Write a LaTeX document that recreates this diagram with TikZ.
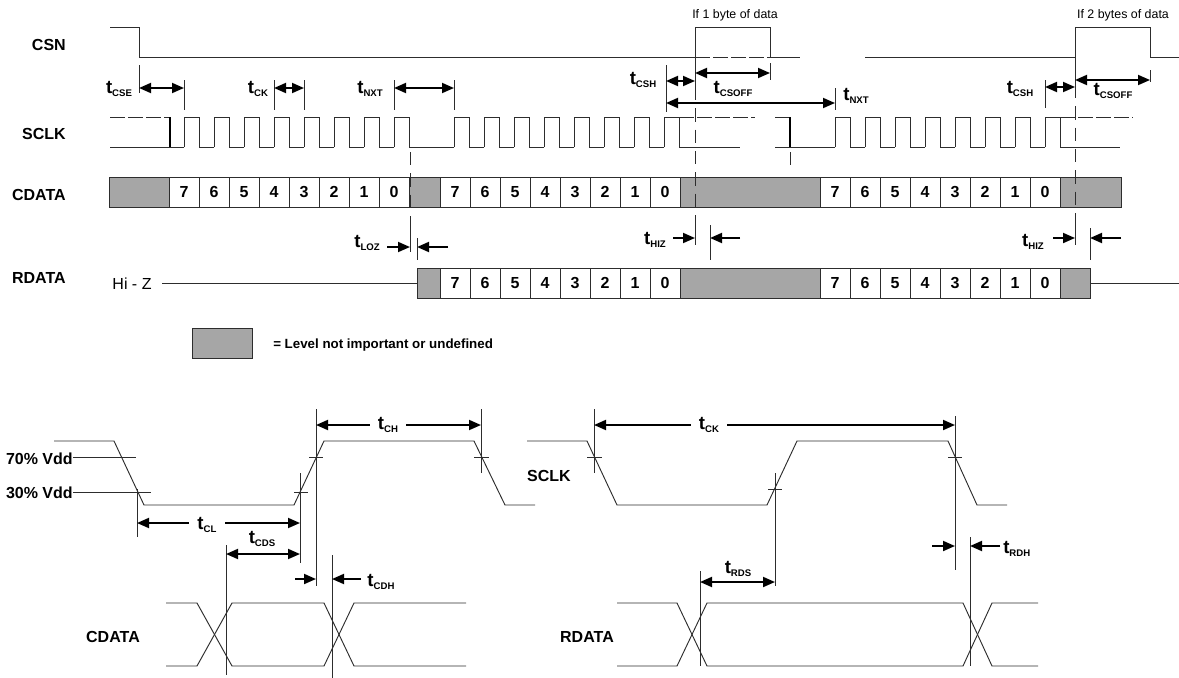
\documentclass[tikz,border=0pt]{standalone}
\usepackage{fontspec}
\setmainfont{Liberation Sans}
\usetikzlibrary{arrows.meta}
\definecolor{greyfill}{RGB}{166,166,166}
\definecolor{ink}{RGB}{45,45,45}
\newcommand\tsub[1]{{\bfseries\fontsize{14}{14}\selectfont t\raisebox{-2.4pt}{\fontsize{7.2}{7.2}\selectfont #1}}}
\begin{document}
\begin{tikzpicture}[x=0.75pt,y=-0.75pt,
  wave/.style={draw=ink,line width=0.7pt},
  dashw/.style={wave,dash pattern=on 11pt off 2.5pt},
  guide/.style={draw=ink,line width=0.6pt},
  dguide/.style={draw=ink,line width=0.6pt,dash pattern=on 10pt off 6pt},
  darr/.style={draw=black,line width=1.4pt,{Triangle[length=9pt,width=7.5pt]}-{Triangle[length=9pt,width=7.5pt]}},
  rarr/.style={draw=black,line width=1.4pt,-{Triangle[length=9pt,width=7.5pt]}},
  cellbox/.style={draw=ink,line width=0.7pt,fill=white},
  greybox/.style={draw=ink,line width=0.7pt,fill=greyfill},
  sig/.style={font=\bfseries\fontsize{12}{12}\selectfont,anchor=east,inner sep=0pt},
  sigc/.style={font=\bfseries\fontsize{12}{12}\selectfont,inner sep=0pt},
  digit/.style={font=\bfseries\fontsize{12}{12}\selectfont,inner sep=0pt},
  tlab/.style={inner sep=0pt},
  tlabw/.style={fill=white,inner xsep=6pt,inner ysep=1pt},
  note/.style={font=\fontsize{9.3}{9.3}\selectfont,inner sep=0pt}
]
\useasboundingbox (0,0) rectangle (1179,678);

% ---------------- signal names ----------------
\node[sig] (lcsn) at (66,45) {CSN};
\node[sig] (lsclk) at (66,134) {SCLK};
\node[sig] (lcdata) at (66,195) {CDATA};
\node[sig] (lrdata) at (66,278) {RDATA};

% ---------------- CSN ----------------
\draw[wave] (110,27) -- (139,27) -- (139,57) -- (695,57) -- (695,27) -- (770,27) -- (770,57) -- (800,57);
\draw[dashw] (695,57) -- (770,57);
\draw[wave] (865,57) -- (1075,57) -- (1075,27) -- (1150,27) -- (1150,57) -- (1179,57);
\node[note] (byte1) at (735,15) {If 1 byte of data};
\node[note] (byte2) at (1123,15) {If 2 bytes of data};

% ---------------- CDATA row ----------------
\draw[greybox] (109,177) rectangle (169,207);
\foreach \b [count=\k from 0] in {7,6,5,4,3,2,1,0} {
  \draw[cellbox] (169+30*\k,177) rectangle ++(30,30);
  \node[digit] (ca\k) at (184+30*\k,192) {\b};
}
\draw[greybox] (409,177) rectangle (440,207);
\foreach \b [count=\k from 0] in {7,6,5,4,3,2,1,0} {
  \draw[cellbox] (440+30*\k,177) rectangle ++(30,30);
  \node[digit] (cb\k) at (455+30*\k,192) {\b};
}
\draw[greybox] (680,177) rectangle (820,207);
\foreach \b [count=\k from 0] in {7,6,5,4,3,2,1,0} {
  \draw[cellbox] (820+30*\k,177) rectangle ++(30,30);
  \node[digit] (cc\k) at (835+30*\k,192) {\b};
}
\draw[greybox] (1060,177) rectangle (1121,207);

% ---------------- RDATA row ----------------
\node[font=\fontsize{12}{12}\selectfont,inner sep=0pt] (hiz) at (132,284) {Hi - Z};
\draw[wave] (162,283) -- (417,283);
\draw[greybox] (417,268) rectangle (440,298);
\foreach \b [count=\k from 0] in {7,6,5,4,3,2,1,0} {
  \draw[cellbox] (440+30*\k,268) rectangle ++(30,30);
  \node[digit] (ra\k) at (455+30*\k,283) {\b};
}
\draw[greybox] (680,268) rectangle (820,298);
\foreach \b [count=\k from 0] in {7,6,5,4,3,2,1,0} {
  \draw[cellbox] (820+30*\k,268) rectangle ++(30,30);
  \node[digit] (rb\k) at (835+30*\k,283) {\b};
}
\draw[greybox] (1060,268) rectangle (1090,298);
\draw[wave] (1090,283) -- (1179,283);

% ---------------- SCLK ----------------
\draw[dashw] (110,117) -- (170,117);
\draw[wave] (110,147) -- (184,147);
\draw[draw=black,line width=1.5pt] (170,117) -- (170,147);
\foreach \r in {184,214,...,394}
  \draw[wave] (\r,147) -- (\r,117) -- (\r+15,117) -- (\r+15,147) -- (\r+30,147);
\draw[wave] (409,147) -- (454,147);
\foreach \r in {454,484,...,634}
  \draw[wave] (\r,147) -- (\r,117) -- (\r+15,117) -- (\r+15,147) -- (\r+30,147);
\draw[wave] (664,147) -- (664,117) -- (679,117) -- (679,147) -- (740,147);
\draw[dashw] (679,117) -- (755,117);
\draw[dashw] (775,117) -- (790,117);
\draw[wave] (775,147) -- (835,147);
\draw[draw=black,line width=1.5pt] (790,117) -- (790,147);
\foreach \r in {835,865,...,1015}
  \draw[wave] (\r,147) -- (\r,117) -- (\r+15,117) -- (\r+15,147) -- (\r+30,147);
\draw[wave] (1045,147) -- (1045,117) -- (1060,117) -- (1060,147) -- (1120,147);
\draw[dashw] (1060,117) -- (1133,117);

% ---------------- top timing marks ----------------
\draw[guide] (139,65) -- (139,93);
\draw[guide] (184,80) -- (184,110);
\draw[darr] (139,88) -- (184,88);
\node[tlab] (tcse) at (119,89) {\tsub{CSE}};
\draw[guide] (274,80) -- (274,110);
\draw[guide] (304,80) -- (304,110);
\draw[darr] (274,88) -- (304,88);
\node[tlab] (tck1) at (258,89) {\tsub{CK}};
\draw[guide] (394,80) -- (394,110);
\draw[guide] (454,80) -- (454,110);
\draw[darr] (394,88) -- (454,88);
\node[tlab] (tnxt1) at (370,89) {\tsub{NXT}};

\draw[guide] (666,65) -- (666,112);
\draw[guide] (695,57) -- (695,87);
\draw[guide] (770,63) -- (770,80);
\draw[guide] (835,88) -- (835,110);
\draw[darr] (666,81) -- (695,81);
\draw[darr] (695,73) -- (770,73);
\draw[darr] (666,103) -- (835,103);
\node[tlab] (tcsh1) at (643,80) {\tsub{CSH}};
\node[tlab] (tcsoff1) at (733,89) {\tsub{CSOFF}};
\node[tlab] (tnxt2) at (856,96) {\tsub{NXT}};

\draw[guide] (1045,80) -- (1045,108);
\draw[guide] (1075,57) -- (1075,85);
\draw[guide] (1150,70) -- (1150,82);
\draw[darr] (1045,87) -- (1075,87);
\draw[darr] (1075,80) -- (1150,80);
\node[tlab] (tcsh2) at (1020,89) {\tsub{CSH}};
\node[tlab] (tcsoff2) at (1113,91) {\tsub{CSOFF}};

% dashed reference lines
\draw[dguide] (695,87) -- (695,225);
\draw[guide] (695,225) -- (695,245);
\draw[dguide] (1075,85) -- (1075,225);
\draw[guide] (1075,225) -- (1075,245);
\draw[dguide] (410,152) -- (410,225);
\draw[guide] (410,225) -- (410,252);
\draw[dguide] (790,152) -- (790,170);

% t_LOZ / t_HIZ
\draw[rarr] (387,247) -- (410,247);
\draw[rarr] (448,247) -- (417,247);
\draw[guide] (417,238) -- (417,260);
\node[tlab] (tloz) at (367,243) {\tsub{LOZ}};
\draw[rarr] (673,238) -- (695,238);
\draw[rarr] (740,238) -- (710,238);
\draw[guide] (710,225) -- (710,260);
\node[tlab] (thiz1) at (655,240) {\tsub{HIZ}};
\draw[rarr] (1053,238) -- (1075,238);
\draw[rarr] (1121,238) -- (1090,238);
\draw[guide] (1090,228) -- (1090,260);
\node[tlab] (thiz2) at (1033,242) {\tsub{HIZ}};

% ---------------- legend ----------------
\draw[greybox] (192,328) rectangle (252,358);
\node[font=\bfseries\fontsize{10}{10}\selectfont,anchor=west,inner sep=0pt] (legend) at (273,345) {= Level not important or undefined};

% ---------------- bottom left: write timing ----------------
\node[sig] (l70) at (73,459) {70\% Vdd};
\node[sig] (l30) at (73,493) {30\% Vdd};
\draw[wave] (73,457) -- (136,457);
\draw[wave] (73,492) -- (151,492);
\draw[wave] (54,441) -- (114,441) -- (144,505) -- (294,505) -- (324,441) -- (474,441) -- (505,505) -- (535,505);
\draw[wave] (309,457) -- (323,457);
\draw[wave] (294,492) -- (308,492);
\draw[wave] (474,457) -- (489,457);
\draw[guide] (137,489) -- (137,537);
\draw[guide] (300,473) -- (300,563);
\draw[guide] (316,409) -- (316,586);
\draw[guide] (481,409) -- (481,473);
\draw[guide] (226,545) -- (226,675);
\draw[guide] (332,555) -- (332,678);
\draw[darr] (316,425) -- (481,425);
\node[tlabw] (tch) at (388,425) {\tsub{CH}};
\draw[darr] (137,523) -- (300,523);
\node[tlabw] (tcl) at (207,525) {\tsub{CL}};
\draw[darr] (226,554) -- (300,554);
\node[tlab] (tcds) at (262,539) {\tsub{CDS}};
\draw[rarr] (295,579) -- (316,579);
\draw[rarr] (361,579) -- (332,579);
\node[tlab] (tcdh) at (381,582) {\tsub{CDH}};
\draw[wave] (166,603) -- (197,603) -- (232,666) -- (324,666) -- (354,603) -- (466,603);
\draw[wave] (166,666) -- (197,666) -- (232,603) -- (324,603) -- (354,666) -- (466,666);
\node[sigc] (lcdata2) at (113,637) {CDATA};

% ---------------- bottom right: read timing ----------------
\node[sigc] (lsclk2) at (549,476) {SCLK};
\draw[wave] (527,441) -- (587,441) -- (617,505) -- (767,505) -- (797,441) -- (948,441) -- (977,505) -- (1007,505);
\draw[wave] (587,457) -- (602,457);
\draw[wave] (768,489) -- (782,489);
\draw[wave] (948,457) -- (962,457);
\draw[guide] (594,409) -- (594,473);
\draw[guide] (775,473) -- (775,586);
\draw[guide] (955,416) -- (955,570);
\draw[guide] (970,537) -- (970,666);
\draw[guide] (700,571) -- (700,666);
\draw[darr] (594,425) -- (955,425);
\node[tlabw] (tck2) at (709,425) {\tsub{CK}};
\draw[darr] (700,582) -- (775,582);
\node[tlab] (trds) at (738,569) {\tsub{RDS}};
\draw[rarr] (932,546) -- (955,546);
\draw[rarr] (1000,546) -- (970,546);
\node[tlab,anchor=west] (trdh) at (1003,549) {\tsub{RDH}};
\draw[wave] (617,603) -- (677,603) -- (707,666) -- (963,666) -- (992,603) -- (1038,603);
\draw[wave] (617,666) -- (677,666) -- (707,603) -- (963,603) -- (992,666) -- (1038,666);
\node[sigc] (lrdata2) at (587,637) {RDATA};
\end{tikzpicture}
\end{document}
